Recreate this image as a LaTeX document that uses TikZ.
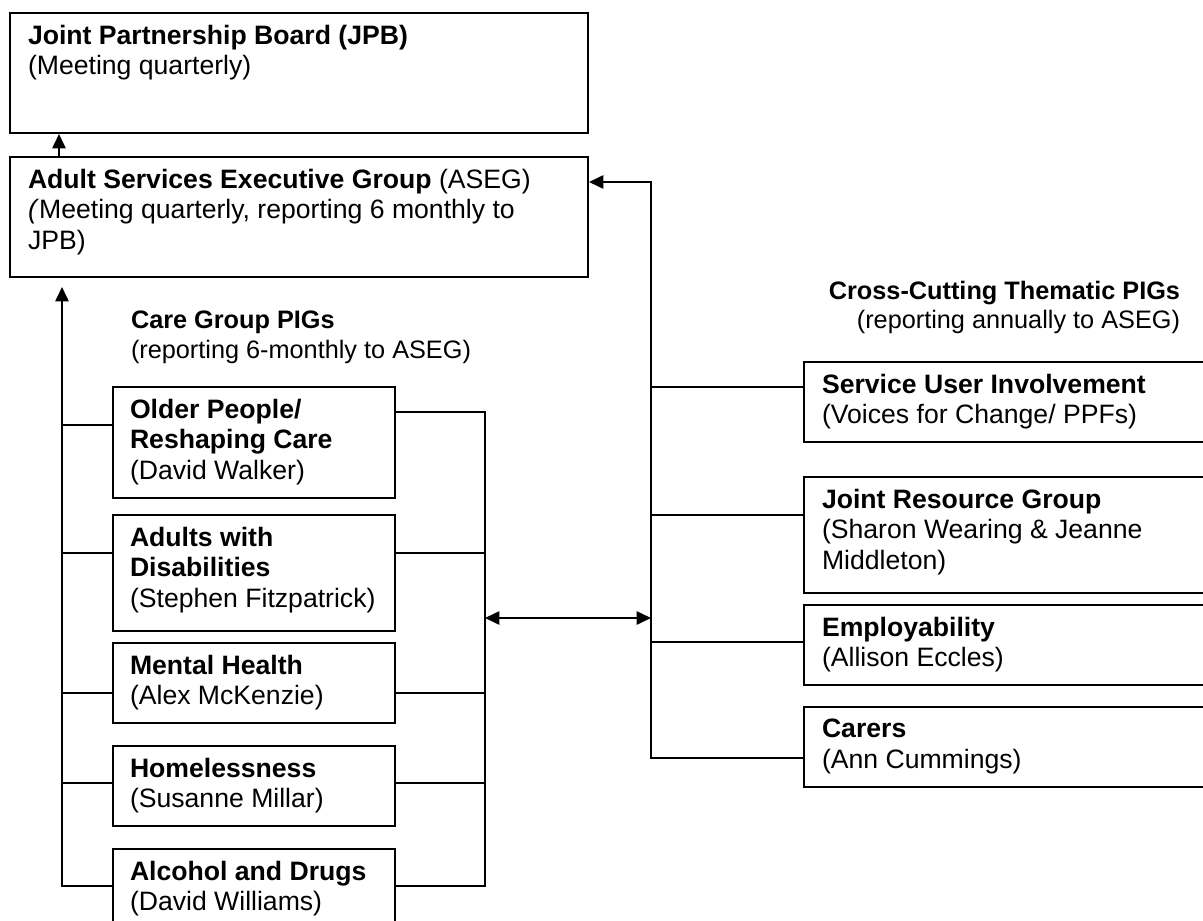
\documentclass[tikz,border=0pt]{standalone}
\usepackage{fontspec}
\setmainfont{Liberation Sans}
\usetikzlibrary{arrows.meta, positioning, calc, fit}

\begin{document}
\begin{tikzpicture}[x=0.451pt, y=-0.451pt, line width=0.9pt,
    >={Triangle[length=6.5pt,width=6pt]},
    box/.style={draw, inner sep=0pt, fit={#1}},
    txt/.style={anchor=north west, inner sep=0pt, align=left,
      font=\fontsize{12}{13.8}\selectfont,
      execute at begin node={\rule{0pt}{10pt}}},
    lbl/.style={txt, font=\fontsize{11.4}{13.3}\selectfont}]
  \useasboundingbox (0,0) rectangle (1203,921);
  \clip (0,0) rectangle (1203,921);

  \node[box={(10,13)(588,133)}] (jpb) {};
  \node[txt] at ($(jpb.north west)+(18,12)$) {\textbf{Joint Partnership Board (JPB)}\\(Meeting quarterly)};
  \node[box={(10,157)(588,277)}] (aseg) {};
  \node[txt] at ($(aseg.north west)+(18,12)$) {\textbf{Adult Services Executive Group} (ASEG)\\\textit{(}Meeting quarterly, reporting 6 monthly to\\JPB)};

  \node[lbl] (cglbl) at (130,310) {\textbf{Care Group PIGs}\\(reporting 6-monthly to ASEG)};
  \node[lbl, anchor=north east, align=right] (cclbl) at (1181,280) {\textbf{Cross-Cutting Thematic PIGs}\\(reporting annually to ASEG)};

  \node[box={(113,387)(395,498)}] (older) {};
  \node[txt] at ($(older.north west)+(17,12)$) {\textbf{Older People/}\\\textbf{Reshaping Care}\\(David Walker)};
  \node[box={(113,515)(395,631)}] (adults) {};
  \node[txt] at ($(adults.north west)+(17,12)$) {\textbf{Adults with}\\\textbf{Disabilities}\\(Stephen Fitzpatrick)};
  \node[box={(113,643)(395,723)}] (mental) {};
  \node[txt] at ($(mental.north west)+(17,12)$) {\textbf{Mental Health}\\(Alex McKenzie)};
  \node[box={(113,746)(395,826)}] (homeless) {};
  \node[txt] at ($(homeless.north west)+(17,12)$) {\textbf{Homelessness}\\(Susanne Millar)};
  \node[box={(113,849)(395,940)}] (alcohol) {};
  \node[txt] at ($(alcohol.north west)+(17,12)$) {\textbf{Alcohol and Drugs}\\(David Williams)};

  \node[box={(804,362)(1215,442)}] (sui) {};
  \node[txt] at ($(sui.north west)+(18,12)$) {\textbf{Service User Involvement}\\(Voices for Change/ PPFs)};
  \node[box={(804,477)(1215,593)}] (jrg) {};
  \node[txt] at ($(jrg.north west)+(18,12)$) {\textbf{Joint Resource Group}\\(Sharon Wearing \& Jeanne\\Middleton)};
  \node[box={(804,605)(1215,685)}] (employ) {};
  \node[txt] at ($(employ.north west)+(18,12)$) {\textbf{Employability}\\(Allison Eccles)};
  \node[box={(804,707)(1215,787)}] (carers) {};
  \node[txt] at ($(carers.north west)+(18,12)$) {\textbf{Carers}\\(Ann Cummings)};

  \coordinate (cgtop) at (62,287);
  \coordinate (cgright) at (485,618);
  \coordinate (cctop) at (651,182);
  \coordinate (ccmid) at (651,618);

  \foreach \b/\l/\r in {older/39/26, adults/39/39, mental/51/51, homeless/38/38, alcohol/38/38} {
    \coordinate (l\b) at ($(\b.north west)+(0,\l)$);
    \coordinate (r\b) at ($(\b.north east)+(0,\r)$);
  }
  \foreach \b/\l in {sui/26, jrg/39, employ/38, carers/52}
    \coordinate (l\b) at ($(\b.north west)+(0,\l)$);

  \draw[->] ($(aseg.north west)+(50,0)$) -- ($(jpb.south west)+(50,0)$);
  \draw[->] (lalcohol) -- (lalcohol -| cgtop) -- (cgtop);
  \foreach \b in {older, adults, mental, homeless}
    \draw (l\b) -- (l\b -| cgtop);
  \draw (rolder) -- (rolder -| cgright) -- (ralcohol -| cgright) -- (ralcohol);
  \foreach \b in {adults, mental, homeless}
    \draw (r\b) -- (r\b -| cgright);
  \draw[<->] (cgright) -- (ccmid);
  \draw[->] (lcarers) -- (lcarers -| cctop) -- (cctop) -- (aseg.east |- cctop);
  \foreach \b in {sui, jrg, employ}
    \draw (l\b) -- (l\b -| cctop);
\end{tikzpicture}
\end{document}
